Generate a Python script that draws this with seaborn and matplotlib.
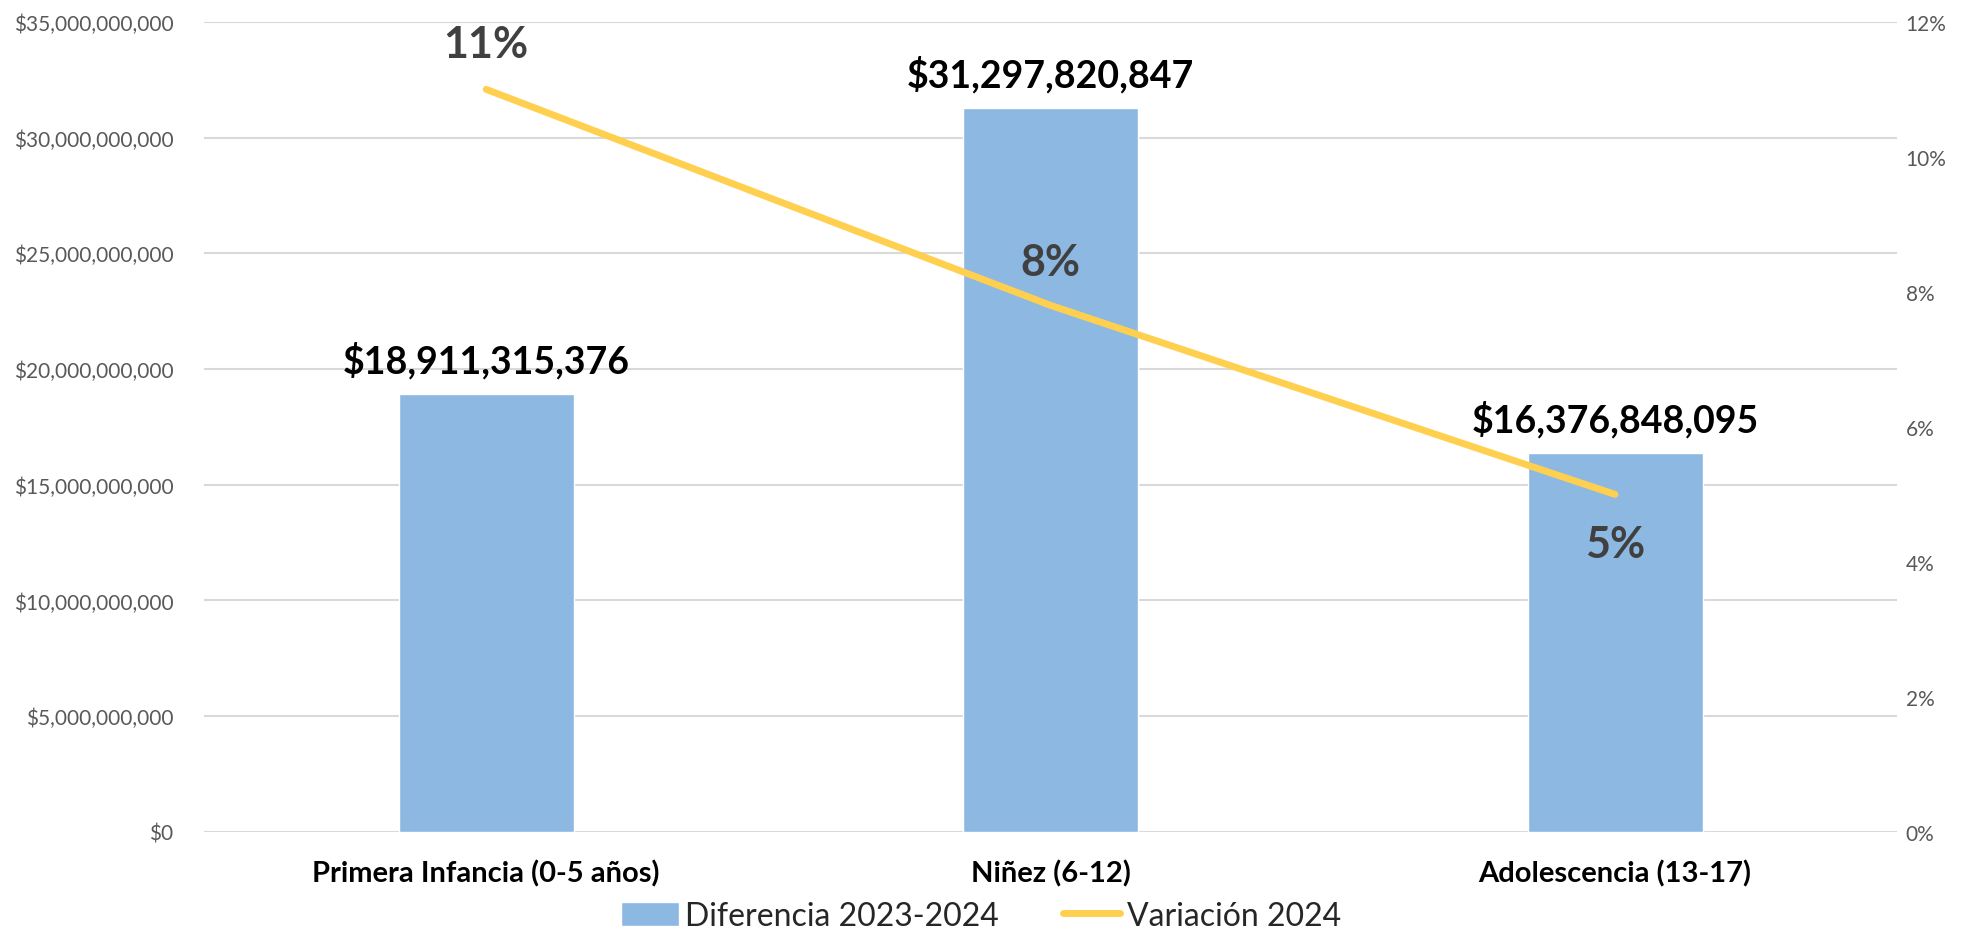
import pandas as pd
import matplotlib.pyplot as plt
import seaborn as sns
from matplotlib.ticker import FuncFormatter, MultipleLocator
from matplotlib.lines import Line2D
from matplotlib.patches import Patch

# Datos
grupos = ["Primera Infancia (0-5 años)", "Niñez (6-12)", "Adolescencia (13-17)"]
diferencia = [18911315376, 31297820847, 16376848095]
variacion = [0.11, 0.078, 0.05]

df = pd.DataFrame({"Grupo": grupos, "Diferencia": diferencia, "Variacion": variacion})

sns.set_style("white")
plt.rcParams["font.family"] = ["Lato", "DejaVu Sans"]

fig = plt.figure(figsize=(19.62, 9.53), dpi=100)
ax = fig.add_axes([0.104, 0.126, 0.863, 0.850])

bar_color = "#8DB8E2"
line_color = "#FFD04F"

sns.barplot(data=df, x="Grupo", y="Diferencia", color=bar_color, width=0.31,
            saturation=1, ax=ax, zorder=2)
ax.set_ylim(0, 35e9)
ax.set_xlim(-0.5, 2.5)
ax.yaxis.set_major_locator(MultipleLocator(5e9))
ax.yaxis.set_major_formatter(FuncFormatter(lambda v, p: f"${v:,.0f}"))
ax.grid(axis="y", color="#D9D9D9", linewidth=1.5, zorder=0)
ax.set_axisbelow(True)
ax.set_xlabel("")
ax.set_ylabel("")
for s in ax.spines.values():
    s.set_visible(False)
ax.tick_params(axis="y", labelsize=15, labelcolor="#595959", length=0, pad=22)
ax.tick_params(axis="x", length=0, pad=20)
for lbl in ax.get_xticklabels():
    lbl.set_fontsize(21)
    lbl.set_fontweight("bold")
    lbl.set_color("black")

for i, v in enumerate(diferencia):
    ax.annotate(f"${v:,.0f}", (i, v), xytext=(0, 11), textcoords="offset points",
                ha="center", va="bottom", fontsize=27, fontweight="bold", color="black")

ax2 = ax.twinx()
sns.lineplot(data=df, x="Grupo", y="Variacion", color=line_color, linewidth=5,
             solid_capstyle="round", ax=ax2, zorder=3)
ax2.set_ylim(0, 0.12)
ax2.yaxis.set_major_locator(MultipleLocator(0.02))
ax2.yaxis.set_major_formatter(FuncFormatter(lambda v, p: f"{v*100:.0f}%"))
ax2.tick_params(axis="y", labelsize=15, labelcolor="#595959", length=0, pad=6)
ax2.set_ylabel("")
ax2.grid(False)
for s in ax2.spines.values():
    s.set_visible(False)

offsets = [33, 31, -36]
for i, v in enumerate(variacion):
    ax2.annotate(f"{v*100:.0f}%", (i, v), xytext=(0, offsets[i]), textcoords="offset points",
                 ha="center", va="center", fontsize=31, fontweight="bold", color="#404040")

handles = [Patch(facecolor=bar_color, label="Diferencia 2023-2024"),
           Line2D([0], [0], color=line_color, linewidth=5, solid_capstyle="round",
                  label="Variación 2024")]
fig.legend(handles=handles, loc="lower center", bbox_to_anchor=(0.5, -0.008), ncol=2,
           frameon=False, fontsize=23, handlelength=1.8, handleheight=0.8,
           columnspacing=2.0, handletextpad=0.2)

fig.savefig("out.png", dpi=100)
